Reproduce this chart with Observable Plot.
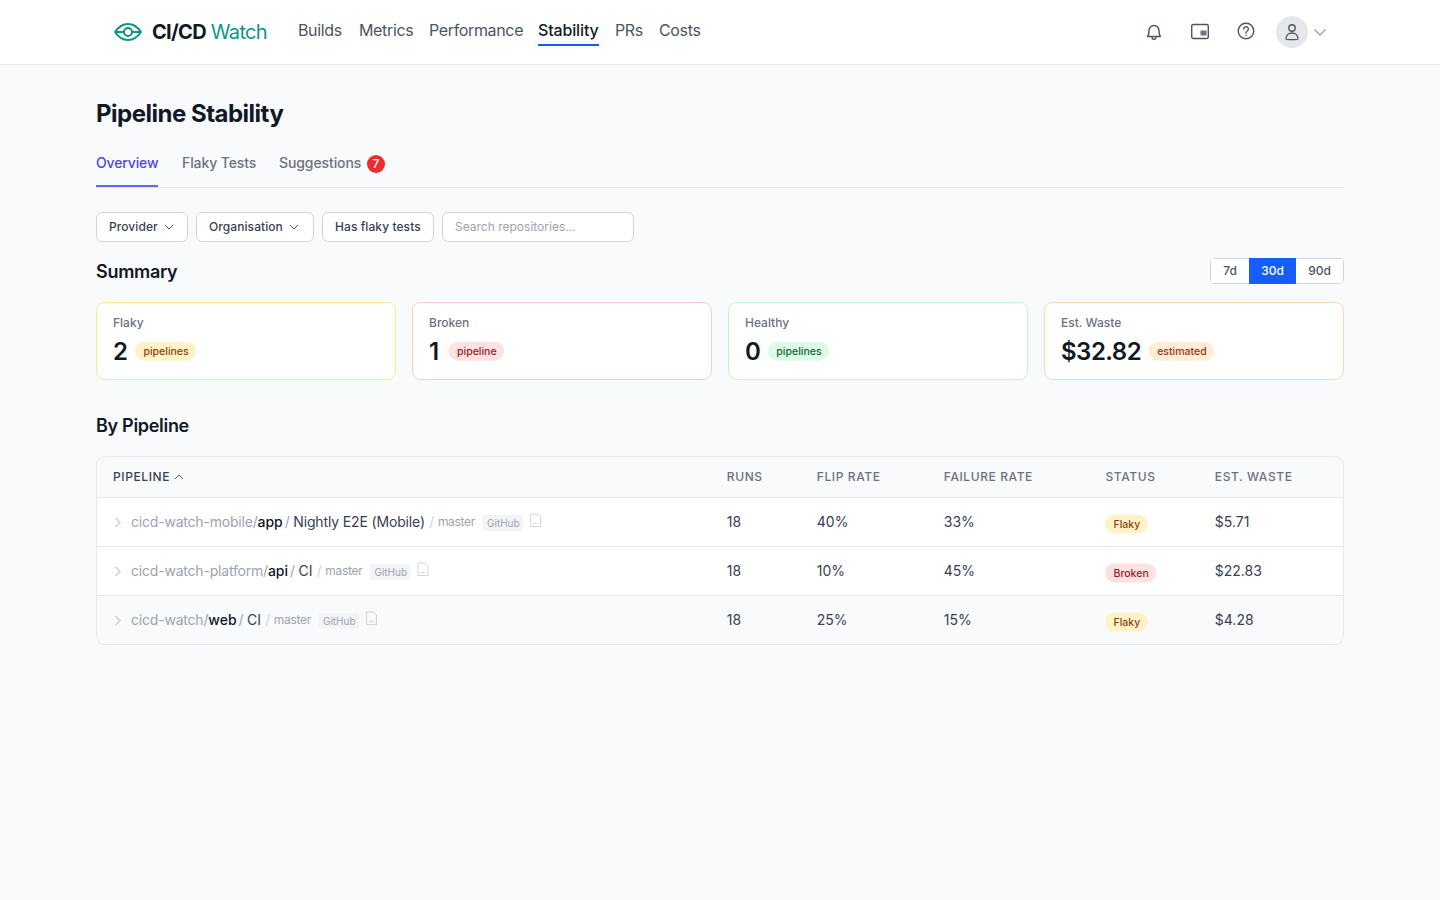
<!DOCTYPE html>
<html>
<head>
<meta charset="utf-8">
<script src="https://cdn.jsdelivr.net/npm/d3@7"></script>
<script src="https://cdn.jsdelivr.net/npm/@observablehq/plot@0.6"></script>
<style>
  * { box-sizing: border-box; }
  html, body { margin: 0; height: 100%; overflow: hidden; background: #f9fafb; font-family: Inter, sans-serif; color: #111827; }
  .abs { position: absolute; white-space: nowrap; line-height: 1; }
  .abs > svg { display: block; }
  #topbar { position: absolute; left: 0; top: 0; width: 1440px; height: 65px; background: #fff; border-bottom: 1px solid #e5e7eb; }
  .nav { font-size: 16px; color: #4b5563; top: 22px; letter-spacing: -0.35px; }
  .nav.on { color: #111827; font-weight: 500; letter-spacing: -0.15px; }
  .tab { font-size: 14px; font-weight: 500; color: #6b7280; top: 156px; letter-spacing: -0.1px; }
  .tab.on { color: #4f46e5; letter-spacing: -0.15px; }
  .filter { top: 212px; height: 30px; background: #fff; border: 1px solid #d1d5db; border-radius: 6px; font-size: 12px; font-weight: 500; color: #374151; display: flex; align-items: center; padding-left: 12px; letter-spacing: 0.08px; }
  .filter svg { margin-left: 6.5px; }
  .range { top: 258px; height: 26px; font-size: 12px; font-weight: 500; color: #4b5563; display: flex; align-items: center; justify-content: center; background: #fff; }
  .range.on { background: #155dfc; color: #fff; }
  h2 { margin: 0; font-size: 18px; font-weight: 600; letter-spacing: -0.3px; }
  #cards { position: absolute; left: 96px; top: 302px; }
  #table { position: absolute; left: 96px; top: 456px; width: 1248px; height: 189px; border-radius: 8px; overflow: hidden; }
  .hdr text { letter-spacing: 0.05em; }
  .val text { letter-spacing: -0.5px; }
  .repo text { letter-spacing: -0.2px; }
  .tight text { letter-spacing: -0.15px; }
  .tighter text { letter-spacing: -0.3px; }
</style>
</head>
<body>
<div id="topbar"></div>
<div id="chrome"></div>
<div id="cards"></div>
<div id="table"></div>
<script>
const navItems = ["Builds", "Metrics", "Performance", "Stability", "PRs", "Costs"];
const tabs = ["Overview", "Flaky Tests", "Suggestions"];
const suggestionCount = "7";
const filters = ["Provider", "Organisation", "Has flaky tests"];
const ranges = ["7d", "30d", "90d"];

const cardLabels = ["Flaky", "Broken", "Healthy", "Est. Waste"];
const cardValues = ["2", "1", "0", "$32.82"];
const cardBadges = ["pipelines", "pipeline", "pipelines", "estimated"];

const columns = ["PIPELINE", "RUNS", "FLIP RATE", "FAILURE RATE", "STATUS", "EST. WASTE"];
const repos = ["cicd-watch-mobile/", "cicd-watch-platform/", "cicd-watch/"];
const apps = ["app", "api", "web"];
const workflows = ["Nightly E2E (Mobile)", "CI", "CI"];
const branches = ["master", "master", "master"];
const providers = ["GitHub", "GitHub", "GitHub"];
const runs = ["18", "18", "18"];
const flipRates = ["40%", "10%", "25%"];
const failureRates = ["33%", "45%", "15%"];
const statuses = ["Flaky", "Broken", "Flaky"];
const wastes = ["$5.71", "$22.83", "$4.28"];

const cardStyles = [
  {border: "#fde68a", bg: "#fef3c7", ink: "#92400e"},
  {border: "#fecaca", bg: "#fee2e2", ink: "#991b1b"},
  {border: "#bbf7d0", bg: "#dcfce7", ink: "#166534"},
  {border: "#fed7aa", bg: "#ffedd5", ink: "#9a3412"}
];
const statusStyles = {
  Flaky: {bg: "#fef3c7", ink: "#92400e"},
  Broken: {bg: "#fee2e2", ink: "#991b1b"}
};

// text widths, so mixed-style text can sit side by side in svg
const ctx = document.createElement("canvas").getContext("2d");
function textWidth(s, size, weight = 400) {
  ctx.font = `${weight} ${size}px Inter`;
  return ctx.measureText(s).width;
}

// custom symbols for the little icons
const chevronRight = {draw(p) { p.moveTo(-2.5, -4.5); p.lineTo(2, 0); p.lineTo(-2.5, 4.5); }};
const chevronUp = {draw(p) { p.moveTo(-4, 2); p.lineTo(0, -2); p.lineTo(4, 2); }};
const docIcon = {draw(p) {
  p.moveTo(-5, -6.5); p.lineTo(2, -6.5); p.lineTo(5, -3.5); p.lineTo(5, 6); p.lineTo(-5, 6); p.closePath();
  p.moveTo(-2.5, 3); p.lineTo(2, 3);
}};

// ---- page furniture
const chrome = d3.select("#chrome");
const add = (cls, left, top, text) =>
  chrome.append("div").attr("class", "abs " + cls).style("left", left + "px").style("top", top == null ? null : top + "px").text(text);

chrome.append("div").attr("class", "abs").style("left", "114px").style("top", "23px").html(
  `<svg width="28" height="18" viewBox="0 0 28 18" fill="none" stroke="#0d9488" stroke-width="2"><path d="M1 9C5 3 9.500 1 14 1s9 2 13 8c-4 6-8.500 8-13 8S5 15 1 9Z"/><circle cx="14" cy="9" r="4"/><path d="M2 9h8M18 9h8"/></svg>`);
chrome.append("div").attr("class", "abs").style("left", "152px").style("top", "22px").style("font-size", "20px").style("letter-spacing", "-0.7px")
  .html(`<span style="font-weight:700">CI/CD</span> <span style="color:#0d9488">Watch</span>`);

const navX = [298, 359, 429, 538, 615, 659];
navItems.forEach((n, i) => add("nav" + (n === "Stability" ? " on" : ""), navX[i], null, n));
chrome.append("div").attr("class", "abs").style("left", "538px").style("top", "44px").style("width", "61px").style("height", "2px").style("background", "#155dfc");

const iconStroke = `fill="none" stroke="#4b5563" stroke-width="1.4" stroke-linecap="round" stroke-linejoin="round"`;
const icons = [
  [1145, 22, `<svg width="18" height="20" viewBox="0 0 18 20" ${iconStroke}><path d="M2.500 14.500c1.500-1.500 1.500-3 1.500-6a5 5 0 0 1 10 0c0 3 0 4.500 1.500 6Z"/><path d="M7 15c0 3 4 3 4 0"/></svg>`],
  [1191, 23, `<svg width="18" height="17" viewBox="0 0 18 17" ${iconStroke}><rect x="0.700" y="1.500" width="16.600" height="14" rx="1.500"/><rect x="9.500" y="7.500" width="6" height="5" fill="#6b7280" stroke="none"/></svg>`],
  [1237, 22, `<svg width="18" height="18" viewBox="0 0 18 18" ${iconStroke}><circle cx="9" cy="9" r="7.800"/><path d="M6.800 7a2.300 2.300 0 1 1 3.400 2c-.8.500-1.200 1-1.200 2"/><path d="M9 13.400v.1"/></svg>`],
  [1276, 16, `<svg width="32" height="32" viewBox="0 0 32 32"><circle cx="16" cy="16" r="16" fill="#e5e7eb"/><g ${iconStroke}><circle cx="16" cy="12" r="3.200"/><path d="M10 23c0-8 12-8 12 0 0 .8-12 .8-12 0Z"/></g></svg>`],
  [1313, 28, `<svg width="14" height="9" viewBox="0 0 14 9" fill="none" stroke="#9ca3af" stroke-width="1.400"><path d="M1.500 1.500 7 7l5.500-5.500"/></svg>`]
];
icons.forEach(([x, y, svg]) => chrome.append("div").attr("class", "abs").style("left", x + "px").style("top", y + "px").html(svg));

add("", 96, 102, "Pipeline Stability").style("font-size", "24px").style("font-weight", 700).style("letter-spacing", "-0.5px");

const tabX = [96, 182, 279];
tabs.forEach((t, i) => add("tab" + (i === 0 ? " on" : ""), tabX[i], null, t));
chrome.append("div").attr("class", "abs").style("left", "367px").style("top", "155px").style("width", "18px").style("height", "18px")
  .style("border-radius", "50%").style("background", "#ef2b2d").style("color", "#fff").style("font-size", "12px").style("font-weight", 500)
  .style("display", "flex").style("align-items", "center").style("justify-content", "center").text(suggestionCount);
chrome.append("div").attr("class", "abs").style("left", "96px").style("top", "187px").style("width", "1248px").style("height", "1px").style("background", "#e5e7eb");
chrome.append("div").attr("class", "abs").style("left", "96px").style("top", "185px").style("width", "62px").style("height", "2px").style("background", "#6366f1");

const filterBoxes = [[96, 92], [196, 118], [322, 112]];
const smallChevron = `<svg width="10" height="6" viewBox="0 0 10 6" fill="none" stroke="#4b5563" stroke-width="1"><path d="M1 1l4 4 4-4"/></svg>`;
filters.forEach((f, i) => {
  add("filter", filterBoxes[i][0], null, "").style("width", filterBoxes[i][1] + "px")
    .html(i < 2 ? `${f}${smallChevron}` : f);
});
add("filter", 442, null, "Search repositories...").style("width", "192px").style("color", "#9ca3af").style("font-weight", 400).style("letter-spacing", "0");

chrome.append("h2").attr("class", "abs").style("left", "96px").style("top", "263px").text("Summary");
chrome.append("h2").attr("class", "abs").style("left", "96px").style("top", "417px").text("By Pipeline");

const rangeBoxes = [[1210, 39], [1249, 47], [1296, 48]];
chrome.append("div").attr("class", "abs").style("left", "1210px").style("top", "258px").style("width", "134px").style("height", "26px")
  .style("border", "1px solid #d1d5db").style("border-radius", "4px").style("background", "#fff");
ranges.forEach((r, i) => add("range" + (i === 1 ? " on" : ""), rangeBoxes[i][0] + (i === 0 ? 1 : 0), null, r)
  .style("width", rangeBoxes[i][1] - (i === 1 ? 0 : 1) + "px").style("height", i === 1 ? "26px" : "24px").style("top", i === 1 ? "258px" : "259px"));

// ---- summary cards
const cards = cardLabels.map((label, i) => ({i, label, value: cardValues[i], badge: cardBadges[i], ...cardStyles[i]}));
const at = (v) => () => v;

const cardsPlot = Plot.plot({
  width: 1248, height: 78,
  marginTop: 0, marginRight: 0, marginBottom: 0, marginLeft: 0,
  x: {domain: [0, 4], range: [0, 1264], axis: null},
  y: {domain: [0, 1], range: [0, 78], axis: null},
  color: {type: "identity"},
  style: {background: "transparent", fontFamily: "Inter, sans-serif", overflow: "visible"},
  marks: [
    Plot.rect(cards, {
      x1: "i", x2: (d) => d.i + 1, y1: at(0), y2: at(1),
      insetLeft: 0.5, insetRight: 16.5, insetTop: 0.5, insetBottom: 0.5,
      fill: "#fff", stroke: (d) => d.border, rx: 8
    }),
    Plot.text(cards, {
      x: "i", y: at(0.27), text: "label", textAnchor: "start", dx: 16.5,
      fontSize: 12, fontWeight: 500, fill: "#6b7280"
    }),
    Plot.text(cards, {
      x: "i", y: at(0.635), text: "value", textAnchor: "start", dx: 16.5, className: "val",
      fontSize: 24, fontWeight: 600, fill: "#111827"
    }),
    ...cards.flatMap((d) => {
      // the reference's "1" is wider than the one here
      const valueWidth = Math.max(12, textWidth(d.value, 24, 600) - 0.5 * d.value.length);
      const left = 16.5 + valueWidth + 8;
      const w = textWidth(d.badge, 10.5, 500) + 16;
      return [
        Plot.rect([d], {
          x1: "i", x2: "i", y1: at(0.63), y2: at(0.63), dx: left,
          insetRight: -w, insetTop: -9.5, insetBottom: -9.5,
          fill: d.bg, rx: 9.5
        }),
        Plot.text([d], {
          x: "i", y: at(0.63), text: "badge", textAnchor: "start", dx: left + 8,
          fontSize: 10.5, fontWeight: 500, fill: d.ink
        })
      ];
    })
  ]
});
document.getElementById("cards").append(cardsPlot);

// ---- table
const rows = repos.map((repo, i) => ({
  row: i + 1.5, repo, app: apps[i], workflow: workflows[i], branch: branches[i], provider: providers[i],
  runs: runs[i], flip: flipRates[i], failure: failureRates[i], status: statuses[i], waste: wastes[i]
}));
const head = columns.map((label, col) => ({label, col}));

// one text mark per styled piece of the pipeline cell
function pipelineCell(d) {
  const piece = (text, dx, size, weight, fill, className) =>
    Plot.text([d], {x: at(0), y: "row", text: at(text), textAnchor: "start", dx, dy: 0.5, fontSize: size, fontWeight: weight, fill, className});
  let x = 131 - 113;
  const out = [piece(d.repo, x, 14, 400, "#9ca3af", "repo")];
  x += textWidth(d.repo, 14) - 0.2 * d.repo.length;
  out.push(piece(d.app, x, 14, 500, "#111827"));
  x += textWidth(d.app, 14, 500) + 2;
  out.push(piece("/", x, 14, 400, "#9ca3af"));
  x += textWidth("/", 14) + 3.5;
  out.push(piece(d.workflow, x, 14, 400, "#374151", "tight"));
  x += textWidth(d.workflow, 14) - 0.15 * d.workflow.length + 4.5;
  out.push(piece("/", x, 14, 400, "#d1d5db"));
  x += textWidth("/", 14) + 3.5;
  out.push(piece(d.branch, x, 12, 400, "#9ca3af", "tighter"));
  x += textWidth(d.branch, 12) - 0.3 * d.branch.length + 8;
  const w = textWidth(d.provider, 10) + 8;
  out.push(Plot.rect([d], {
    x1: at(0), x2: at(0), y1: "row", y2: "row", dx: x, dy: 1.5,
    insetRight: -w, insetTop: -8, insetBottom: -8, fill: "#f3f4f6", rx: 3
  }));
  out.push(Plot.text([d], {
    x: at(0), y: "row", text: at(d.provider), textAnchor: "start", dx: x + 4, dy: 1.5,
    fontSize: 10, fill: "#9ca3af"
  }));
  x += w + 12;
  out.push(Plot.dot([d], {x: at(0), y: "row", dx: x, dy: -1.5, symbol: docIcon, fill: "none", stroke: "#d1d5db", strokeWidth: 1}));
  return out;
}

const cellText = {textAnchor: "start", dy: 0.5, fontSize: 14, fill: "#374151"};

const tablePlot = Plot.plot({
  width: 1248, height: 189,
  marginTop: 0, marginRight: 0, marginBottom: 0, marginLeft: 0,
  x: {type: "linear", domain: [0, 1, 2, 3, 4, 5], range: [16.5, 630.3, 720.3, 847.3, 1009, 1118.3], axis: null},
  y: {type: "linear", domain: [0, 1, 2, 3, 4], range: [0, 41, 90, 139, 188], axis: null},
  color: {type: "identity"},
  style: {background: "#fff", fontFamily: "Inter, sans-serif"},
  marks: [
    Plot.rect([0, 3], {y1: (d) => d, y2: (d) => d + 1, fill: "#f9fafb"}),
    Plot.ruleY([1, 2, 3], {stroke: "#e5e7eb", strokeWidth: 1}),
    Plot.text(head, {
      x: "col", y: at(0.5), text: "label", textAnchor: "start", className: "hdr",
      fontSize: 12, fontWeight: 500, fill: (d) => (d.col === 0 ? "#374151" : "#6b7280")
    }),
    Plot.dot(head.slice(0, 1), {x: "col", y: at(0.5), dx: 66, symbol: chevronUp, fill: "none", stroke: "#4b5563", strokeWidth: 1}),
    Plot.dot(rows, {x: at(0), y: "row", dx: 5, dy: 0.5, symbol: chevronRight, fill: "none", stroke: "#9ca3af", strokeWidth: 1}),
    ...rows.flatMap(pipelineCell),
    Plot.text(rows, {x: at(1), y: "row", text: "runs", ...cellText}),
    Plot.text(rows, {x: at(2), y: "row", text: "flip", ...cellText}),
    Plot.text(rows, {x: at(3), y: "row", text: "failure", ...cellText}),
    ...rows.flatMap((d) => [
      Plot.rect([d], {
        x1: at(4), x2: at(4), y1: "row", y2: "row", dy: 2.5,
        insetRight: -(textWidth(d.status, 10.5, 500) + 16), insetTop: -9.5, insetBottom: -9.5,
        fill: statusStyles[d.status].bg, rx: 9.5
      }),
      Plot.text([d], {
        x: at(4), y: "row", text: "status", textAnchor: "start", dx: 8, dy: 2.5,
        fontSize: 10.5, fontWeight: 500, fill: statusStyles[d.status].ink
      })
    ]),
    Plot.text(rows, {x: at(5), y: "row", text: "waste", ...cellText}),
    Plot.frame({stroke: "#e5e7eb", insetRight: 1, insetBottom: 1, rx: 8})
  ]
});
document.getElementById("table").append(tablePlot);
</script>
</body>
</html>
